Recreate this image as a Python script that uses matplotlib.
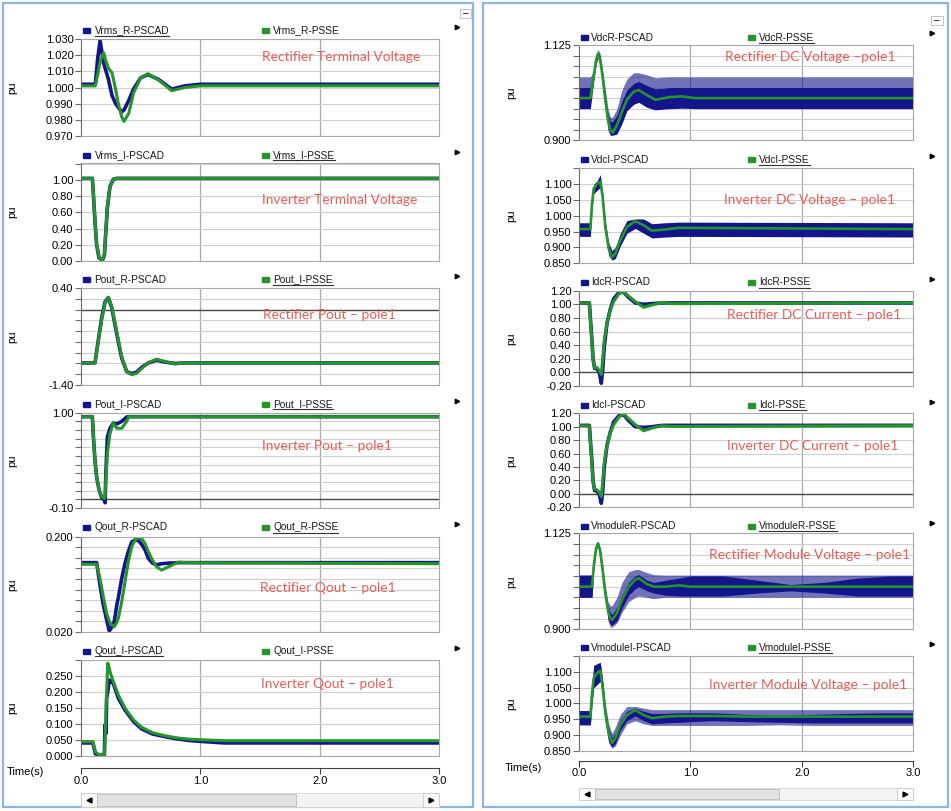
import numpy as np
import matplotlib.pyplot as plt
from matplotlib.patches import Rectangle

plt.rcParams['font.family'] = ['Liberation Sans', 'DejaVu Sans']

W, H = 951, 811
NAVY = '#14148c'
GREEN = '#23952a'
RED = '#e35f57'
GRID = '#cfcfcf'

# ---------------- data ----------------
# left column
t_l1 = [0, 0.12, 0.14, 0.16, 0.19, 0.21, 0.23, 0.26, 0.29, 0.31, 0.34, 0.36, 0.40, 0.44, 0.50, 0.56, 0.65, 0.76, 0.87, 1.0, 3.0]
psse_l1 = [1.001, 1.001, 1.008, 1.016, 1.0215, 1.016, 1.012, 1.009, 0.999, 0.991, 0.982, 0.979, 0.984, 0.9966, 1.006, 1.0085, 1.0046, 0.998, 1.000, 1.001, 1.001]
pscad_l1 = [1.002, 1.002, 1.018, 1.029, 1.015, 1.010, 1.005, 0.995, 0.990, 0.988, 0.985, 0.986, 0.992, 0.999, 1.006, 1.008, 1.005, 0.999, 1.001, 1.002, 1.002]

t_l2 = [0, 0.095, 0.104, 0.117, 0.131, 0.151, 0.179, 0.196, 0.208, 0.221, 0.243, 0.271, 0.30, 3.0]
psse_l2 = [1.02, 1.02, 0.83, 0.50, 0.21, 0.05, 0.01, 0.08, 0.375, 0.67, 0.92, 1.01, 1.02, 1.02]
pscad_l2 = [1.02, 1.02, 0.82, 0.49, 0.20, 0.04, 0.01, 0.07, 0.36, 0.66, 0.92, 1.01, 1.02, 1.02]

t_l3 = [0, 0.117, 0.145, 0.173, 0.201, 0.229, 0.257, 0.285, 0.313, 0.341, 0.383, 0.425, 0.467, 0.51, 0.564, 0.634, 0.704, 0.788, 0.87, 3.0]
psse_l3 = [-0.99, -0.99, -0.59, -0.19, 0.12, 0.23, 0.06, -0.25, -0.56, -0.87, -1.15, -1.21, -1.18, -1.09, -0.985, -0.92, -0.965, -1.01, -0.99, -0.99]
pscad_l3 = [-0.99, -0.99, -0.57, -0.16, 0.14, 0.22, 0.04, -0.28, -0.60, -0.90, -1.15, -1.19, -1.16, -1.07, -0.99, -0.94, -0.975, -1.00, -0.99, -0.99]

t_l4 = [0, 0.095, 0.104, 0.117, 0.131, 0.151, 0.173, 0.196, 0.202, 0.208, 0.221, 0.243, 0.271, 0.30, 0.341, 0.383, 0.40, 3.0]
psse_l4 = [0.954, 0.954, 0.72, 0.45, 0.26, 0.11, 0.03, 0.01, 0.05, 0.23, 0.53, 0.76, 0.88, 0.82, 0.82, 0.90, 0.954, 0.954]
pscad_l4 = [0.954, 0.954, 0.72, 0.45, 0.26, 0.11, 0.02, -0.01, -0.04, 0.28, 0.72, 0.82, 0.88, 0.87, 0.90, 0.95, 0.954, 0.954]

t_l5 = [0, 0.131, 0.159, 0.187, 0.215, 0.237, 0.255, 0.279, 0.30, 0.313, 0.341, 0.369, 0.397, 0.425, 0.453, 0.48, 0.51, 0.537, 0.564, 0.60, 0.634, 0.676, 0.732, 0.816, 0.9, 3.0]
psse_l5 = [0.148, 0.148, 0.121, 0.087, 0.055, 0.040, 0.034, 0.030, 0.038, 0.046, 0.077, 0.115, 0.153, 0.181, 0.194, 0.198, 0.196, 0.187, 0.172, 0.155, 0.143, 0.137, 0.143, 0.152, 0.151, 0.149]
pscad_l5 = [0.151, 0.151, 0.109, 0.071, 0.043, 0.022, 0.028, 0.040, 0.071, 0.085, 0.121, 0.150, 0.172, 0.190, 0.194, 0.193, 0.185, 0.175, 0.159, 0.150, 0.147, 0.149, 0.150, 0.151, 0.151, 0.151]

t_l6 = [0, 0.10, 0.12, 0.145, 0.196, 0.201, 0.21, 0.215, 0.224, 0.237, 0.243, 0.271, 0.313, 0.369, 0.44, 0.508, 0.6, 0.7, 0.8, 0.9, 1.0, 1.2, 3.0]
psse_l6 = [0.044, 0.044, 0.012, 0.004, 0.004, 0.05, 0.138, 0.20, 0.29, 0.275, 0.264, 0.232, 0.19, 0.149, 0.112, 0.089, 0.072, 0.063, 0.056, 0.052, 0.05, 0.047, 0.047]
pscad_l6 = [0.040, 0.040, 0.006, 0.003, 0.003, 0.096, 0.07, 0.18, 0.20, 0.237, 0.236, 0.226, 0.18, 0.143, 0.107, 0.084, 0.068, 0.060, 0.053, 0.048, 0.045, 0.040, 0.040]

# right column
t_r1 = [0, 0.102, 0.132, 0.153, 0.171, 0.191, 0.212, 0.236, 0.26, 0.281, 0.302, 0.341, 0.386, 0.43, 0.49, 0.535, 0.61, 0.685, 0.805, 0.925, 1.04, 3.0]
psse_r1 = [1.0, 1.0, 1.051, 1.09, 1.104, 1.09, 1.051, 0.996, 0.948, 0.925, 0.918, 0.936, 0.968, 0.996, 1.015, 1.019, 1.007, 0.996, 1.002, 1.004, 1.0, 1.0]
pscad_lo_r1 = [0.975, 0.975, 1.04, 1.08, 1.095, 1.075, 1.035, 0.975, 0.925, 0.912, 0.912, 0.915, 0.94, 0.97, 0.985, 0.99, 0.978, 0.972, 0.975, 0.976, 0.975, 0.975]
pscad_hi_r1 = [1.025, 1.025, 1.06, 1.10, 1.11, 1.10, 1.06, 1.01, 0.965, 0.945, 0.945, 0.96, 0.995, 1.02, 1.035, 1.04, 1.03, 1.022, 1.025, 1.025, 1.025, 1.025]
pscad_spike_r1 = [1.05, 1.05, 1.065, 1.105, 1.115, 1.105, 1.065, 1.02, 0.975, 0.955, 0.955, 0.975, 1.02, 1.045, 1.06, 1.06, 1.055, 1.048, 1.05, 1.05, 1.05, 1.05]

t_r2 = [0, 0.102, 0.117, 0.132, 0.162, 0.191, 0.212, 0.236, 0.266, 0.296, 0.326, 0.371, 0.43, 0.505, 0.58, 0.655, 0.775, 0.895, 3.0]
psse_r2 = [0.958, 0.958, 1.039, 1.086, 1.102, 1.107, 1.06, 0.965, 0.897, 0.869, 0.881, 0.923, 0.965, 0.983, 0.97, 0.953, 0.957, 0.962, 0.958]
pscad_lo_r2 = [0.935, 0.935, 1.02, 1.07, 1.08, 1.09, 1.04, 0.945, 0.875, 0.86, 0.865, 0.905, 0.945, 0.96, 0.945, 0.93, 0.933, 0.935, 0.933]
pscad_hi_r2 = [0.978, 0.978, 1.05, 1.10, 1.11, 1.13, 1.075, 0.985, 0.915, 0.89, 0.90, 0.945, 0.985, 0.99, 0.99, 0.975, 0.978, 0.98, 0.978]

t_r3 = [0, 0.093, 0.102, 0.117, 0.126, 0.14, 0.162, 0.182, 0.2, 0.212, 0.227, 0.251, 0.281, 0.311, 0.356, 0.40, 0.446, 0.505, 0.58, 0.655, 0.745, 0.835, 3.0]
psse_r3 = [1.02, 1.02, 0.77, 0.43, 0.18, 0.07, 0.07, 0.024, -0.03, 0.18, 0.48, 0.72, 0.92, 1.04, 1.15, 1.185, 1.12, 1.04, 0.956, 0.99, 1.024, 1.01, 1.02]
pscad_r3 = [1.02, 1.02, 0.80, 0.45, 0.20, 0.06, 0.05, 0.0, -0.16, 0.03, 0.38, 0.72, 0.93, 1.08, 1.17, 1.18, 1.10, 1.02, 1.0, 1.01, 1.02, 1.02, 1.02]

t_r4 = t_r3
psse_r4 = [1.015, 1.015, 0.77, 0.43, 0.18, 0.07, 0.06, 0.02, -0.04, 0.17, 0.47, 0.71, 0.91, 1.03, 1.14, 1.19, 1.12, 1.03, 0.94, 0.98, 1.015, 1.005, 1.015]
pscad_r4 = [1.02, 1.02, 0.80, 0.46, 0.20, 0.05, 0.04, -0.01, -0.14, 0.02, 0.40, 0.72, 0.92, 1.07, 1.16, 1.18, 1.09, 1.00, 0.99, 1.00, 1.02, 1.02, 1.02]

t_r5 = [0, 0.117, 0.132, 0.153, 0.171, 0.191, 0.212, 0.236, 0.26, 0.281, 0.296, 0.341, 0.386, 0.446, 0.505, 0.535, 0.61, 0.67, 0.775, 0.9, 1.0, 1.3, 1.6, 1.9, 2.2, 2.5, 2.8, 3.0]
psse_r5 = [1.0, 1.0, 1.047, 1.09, 1.1016, 1.082, 1.039, 0.984, 0.945, 0.926, 0.922, 0.9375, 0.969, 1.0, 1.016, 1.02, 1.006, 1.0, 1.0, 1.003, 1.0, 1.0, 1.0, 1.0, 1.0, 1.0, 1.0, 1.0]
pscad_dlo_r5 = [0.975, 0.975, 1.04, 1.085, 1.097, 1.077, 1.032, 0.975, 0.925, 0.912, 0.91, 0.92, 0.95, 0.98, 0.995, 1.0, 0.99, 0.985, 0.98, 0.978, 0.978, 0.978, 0.985, 0.99, 0.985, 0.978, 0.978, 0.978]
pscad_dhi_r5 = [1.027, 1.027, 1.055, 1.095, 1.106, 1.088, 1.045, 0.99, 0.955, 0.94, 0.935, 0.95, 0.98, 1.01, 1.025, 1.028, 1.015, 1.01, 1.015, 1.02, 1.025, 1.025, 1.015, 1.005, 1.01, 1.02, 1.025, 1.025]
pscad_llo_r5 = [0.975, 0.975, 1.04, 1.085, 1.097, 1.077, 1.03, 0.97, 0.92, 0.905, 0.905, 0.915, 0.94, 0.965, 0.975, 0.978, 0.975, 0.972, 0.975, 0.975, 0.975, 0.975, 0.975, 0.975, 0.975, 0.975, 0.975, 0.975]
pscad_lhi_r5 = [1.027, 1.027, 1.055, 1.095, 1.106, 1.088, 1.05, 1.0, 0.965, 0.955, 0.955, 0.975, 1.01, 1.035, 1.04, 1.04, 1.033, 1.028, 1.027, 1.027, 1.027, 1.027, 1.027, 1.027, 1.027, 1.027, 1.027, 1.027]

t_r6 = [0, 0.102, 0.117, 0.132, 0.162, 0.191, 0.212, 0.236, 0.266, 0.296, 0.326, 0.371, 0.43, 0.505, 0.58, 0.655, 0.775, 0.9, 1.2, 1.5, 1.8, 2.1, 2.4, 2.7, 3.0]
psse_r6 = [0.958, 0.958, 1.032, 1.08, 1.096, 1.104, 1.053, 0.969, 0.905, 0.875, 0.889, 0.932, 0.963, 0.979, 0.963, 0.953, 0.958, 0.96, 0.96, 0.958, 0.958, 0.958, 0.958, 0.958, 0.958]
pscad_dlo_r6 = [0.932, 0.932, 1.0, 1.05, 1.06, 1.07, 1.03, 0.945, 0.88, 0.862, 0.872, 0.915, 0.945, 0.96, 0.945, 0.935, 0.938, 0.94, 0.945, 0.942, 0.94, 0.938, 0.938, 0.938, 0.938]
pscad_dhi_r6 = [0.977, 0.977, 1.05, 1.12, 1.125, 1.13, 1.07, 0.985, 0.92, 0.89, 0.905, 0.945, 0.975, 0.985, 0.975, 0.968, 0.968, 0.97, 0.97, 0.965, 0.962, 0.965, 0.968, 0.97, 0.97]
pscad_llo_r6 = [0.932, 0.932, 1.0, 1.05, 1.06, 1.07, 1.025, 0.94, 0.875, 0.858, 0.865, 0.9, 0.935, 0.945, 0.935, 0.93, 0.93, 0.93, 0.93, 0.93, 0.932, 0.93, 0.93, 0.93, 0.93]
pscad_lhi_r6 = [0.977, 0.977, 1.05, 1.12, 1.125, 1.13, 1.08, 1.0, 0.935, 0.905, 0.925, 0.965, 0.99, 0.99, 0.985, 0.98, 0.98, 0.98, 0.98, 0.98, 0.98, 0.98, 0.98, 0.98, 0.98]

time_ticks = [0, 1, 2, 3]
time_labels = ['0.0', '1.0', '2.0', '3.0']

# ---------------- figure ----------------
fig = plt.figure(figsize=(W / 100, H / 100), dpi=100)
ov = fig.add_axes([0, 0, 1, 1], zorder=5)
ov.set_xlim(0, W)
ov.set_ylim(H, 0)
ov.axis('off')


def px_axes(x0, y0, x1, y1):
    return fig.add_axes([x0 / W, 1 - y1 / H, (x1 - x0) / W, (y1 - y0) / H])


def setup(ax, ylim, step, labeled, fmt, zero=False):
    ax.set_xlim(0, 3)
    ax.set_ylim(*ylim)
    ticks = np.arange(ylim[0], ylim[1] + step / 2, step)
    ax.set_yticks(ticks)
    ax.set_yticklabels([fmt % v if any(abs(v - l) < 1e-9 for l in labeled) else '' for v in ticks])
    ax.set_xticks([])
    ax.grid(axis='y', color=GRID, lw=0.8)
    ax.set_axisbelow(True)
    for x in (1, 2):
        ax.axvline(x, color='#a9a9a9', lw=0.9, zorder=0.5)
    if zero:
        ax.axhline(0, color='#4a4a4a', lw=1.0, zorder=1)
    for s in ('top', 'right', 'bottom'):
        ax.spines[s].set_color('#a8a8a8')
    ax.spines['left'].set_color('#6a6a6a')
    ax.tick_params(axis='y', length=4, width=0.8, color='#6a6a6a', labelsize=8, pad=1.5)


def lines(ax, t, pscad, psse):
    ax.plot(t, pscad, color=NAVY, lw=2.6)
    ax.plot(t, psse, color=GREEN, lw=2.2)


underlined = []


def legend(y, xm1, xt1, lab1, xm2, xt2, lab2, under):
    for mx, tx, lab, col, u in ((xm1, xt1, lab1, NAVY, under == 1), (xm2, xt2, lab2, GREEN, under == 2)):
        ov.add_patch(Rectangle((mx - 3.5, y - 2.5), 7, 5, color=col))
        txt = ov.text(tx, y, lab, fontsize=7.3, ha='left', va='center', color='#1a1a1a')
        if u:
            underlined.append(txt)


def note(x, y, s):
    ov.text(x, y, s, ha='center', va='center', color=RED, fontsize=9.9, family=['Lato', 'DejaVu Sans'])


# left column axes
LX0, LX1 = 81, 439
ax = px_axes(LX0, 39, LX1, 136)
setup(ax, (0.97, 1.03), 0.01, np.arange(0.97, 1.031, 0.01), '%.3f')
lines(ax, t_l1, pscad_l1, psse_l1)
ax = px_axes(LX0, 163, LX1, 261)
setup(ax, (0.0, 1.21), 0.2, [0, 0.2, 0.4, 0.6, 0.8, 1.0], '%.2f')
lines(ax, t_l2, pscad_l2, psse_l2)
ax = px_axes(LX0, 288, LX1, 385)
setup(ax, (-1.4, 0.4), 0.2, [-1.4, 0.4], '%.2f', zero=True)
lines(ax, t_l3, pscad_l3, psse_l3)
ax = px_axes(LX0, 412.7, LX1, 508)
setup(ax, (-0.1, 1.0), 0.1, [-0.1, 1.0], '%.2f', zero=True)
lines(ax, t_l4, pscad_l4, psse_l4)
ax = px_axes(LX0, 536.7, LX1, 632)
setup(ax, (0.02, 0.2), 0.02, [0.02, 0.2], '%.3f')
lines(ax, t_l5, pscad_l5, psse_l5)
ax = px_axes(LX0, 660, LX1, 755.7)
setup(ax, (0.0, 0.3), 0.05, [0, 0.05, 0.1, 0.15, 0.2, 0.25], '%.3f')
lines(ax, t_l6, pscad_l6, psse_l6)

# right column axes
RX0, RX1 = 579, 913.3
ax = px_axes(RX0, 45.3, RX1, 140.3)
setup(ax, (0.9, 1.125), 0.025, [0.9, 1.125], '%.3f')
ax.fill_between(t_r1, pscad_hi_r1, pscad_spike_r1, color=NAVY, alpha=0.6, lw=0)
ax.fill_between(t_r1, pscad_lo_r1, pscad_hi_r1, color=NAVY, lw=0)
ax.plot(t_r1, psse_r1, color=GREEN, lw=1.9)
ax = px_axes(RX0, 168.3, RX1, 263.3)
setup(ax, (0.85, 1.15), 0.05, [0.85, 0.9, 0.95, 1.0, 1.05, 1.1], '%.3f')
ax.fill_between(t_r2, pscad_lo_r2, pscad_hi_r2, color=NAVY, lw=0)
ax.plot(t_r2, psse_r2, color=GREEN, lw=1.9)
ax = px_axes(RX0, 290.7, RX1, 386)
setup(ax, (-0.2, 1.2), 0.2, np.arange(-0.2, 1.21, 0.2), '%.2f', zero=True)
lines(ax, t_r3, pscad_r3, psse_r3)
ax = px_axes(RX0, 413.3, RX1, 507.3)
setup(ax, (-0.2, 1.2), 0.2, np.arange(-0.2, 1.21, 0.2), '%.2f', zero=True)
lines(ax, t_r4, pscad_r4, psse_r4)
ax = px_axes(RX0, 533.3, RX1, 629.3)
setup(ax, (0.9, 1.125), 0.025, [0.9, 1.125], '%.3f')
ax.fill_between(t_r5, pscad_llo_r5, pscad_lhi_r5, color=NAVY, alpha=0.6, lw=0)
ax.fill_between(t_r5, pscad_dlo_r5, pscad_dhi_r5, color=NAVY, lw=0)
ax.plot(t_r5, psse_r5, color=GREEN, lw=1.9)
ax = px_axes(RX0, 656, RX1, 750.7)
setup(ax, (0.85, 1.15), 0.05, [0.85, 0.9, 0.95, 1.0, 1.05, 1.1], '%.3f')
ax.fill_between(t_r6, pscad_llo_r6, pscad_lhi_r6, color=NAVY, alpha=0.6, lw=0)
ax.fill_between(t_r6, pscad_dlo_r6, pscad_dhi_r6, color=NAVY, lw=0)
ax.plot(t_r6, psse_r6, color=GREEN, lw=1.9)

# time axes
for x0, x1, yl in ((LX0, LX1, 768.3), (RX0, RX1, 760.7)):
    ta = px_axes(x0, yl - 2, x1, yl)
    ta.patch.set_visible(False)
    for s in ('top', 'right', 'left'):
        ta.spines[s].set_visible(False)
    ta.spines['bottom'].set_color('#404040')
    ta.set_xlim(0, 3)
    ta.set_yticks([])
    ta.set_xticks(time_ticks)
    ta.set_xticklabels(time_labels)
    ta.tick_params(axis='x', length=4, width=0.8, color='#404040', labelsize=8, pad=1.5)
ov.text(25, 772, 'Time(s)', fontsize=8, ha='center', va='center')
ov.text(523, 767.7, 'Time(s)', fontsize=8, ha='center', va='center')

# legends
LM1, LT1, LM2, LT2 = 86, 94.5, 265.7, 273
legend(30.3, LM1, LT1, 'Vrms_R-PSCAD', LM2, LT2, 'Vrms_R-PSSE', 1)
legend(155, LM1, LT1, 'Vrms_I-PSCAD', LM2, LT2, 'Vrms_I-PSSE', 2)
legend(279.3, LM1, LT1, 'Pout_R-PSCAD', LM2, LT2, 'Pout_I-PSSE', 2)
legend(404, LM1, LT1, 'Pout_I-PSCAD', LM2, LT2, 'Pout_I-PSSE', 2)
legend(527.3, LM1, LT1, 'Qout_R-PSCAD', LM2, LT2, 'Qout_R-PSSE', 2)
legend(651, LM1, LT1, 'Qout_I-PSCAD', LM2, LT2, 'Qout_I-PSSE', 1)
RM1, RT1, RM2, RT2 = 584.3, 591, 751.7, 759.3
legend(37.7, RM1, RT1, 'VdcR-PSCAD', RM2, RT2, 'VdcR-PSSE', 2)
legend(159.7, RM1, RT1, 'VdcI-PSCAD', RM2, RT2, 'VdcI-PSSE', 2)
legend(282.3, RM1, RT1, 'IdcR-PSCAD', RM2, RT2, 'IdcR-PSSE', 2)
legend(405, RM1, RT1, 'IdcI-PSCAD', RM2, RT2, 'IdcI-PSSE', 2)
legend(526, RM1, RT1, 'VmoduleR-PSCAD', RM2, RT2, 'VmoduleR-PSSE', 2)
legend(647.7, RM1, RT1, 'VmoduleI-PSCAD', RM2, RT2, 'VmoduleI-PSSE', 2)

# red annotations
note(340.8, 56.7, 'Rectifier Terminal Voltage')
note(339.7, 200, 'Inverter Terminal Voltage')
note(329, 315, 'Rectifier Pout \u2013 pole1')
note(326.7, 446, 'Inverter Pout \u2013 pole1')
note(328, 587.7, 'Rectifier Qout \u2013 pole1')
note(327.5, 684.3, 'Inverter Qout \u2013 pole1')
note(809.7, 57.3, 'Rectifier DC Voltage \u2013pole1')
note(809.7, 200, 'Inverter DC Voltage \u2013 pole1')
note(814, 315, 'Rectifier DC Current \u2013 pole1')
note(812.3, 446, 'Inverter DC Current \u2013 pole1')
note(809.2, 555, 'Rectifier Module Voltage \u2013 pole1')
note(808, 685, 'Inverter Module Voltage \u2013 pole1')

# "pu" axis titles
for cy in (87.5, 212, 336.5, 460.3, 584.3, 707.8):
    ov.text(12, cy, 'pu', rotation=90, ha='center', va='center', fontsize=8)
for cy in (92.8, 215.8, 338.3, 460.3, 581.3, 703.3):
    ov.text(511.7, cy, 'pu', rotation=90, ha='center', va='center', fontsize=8)

# little menu arrows
for yy in (26.7, 151.7, 276, 400.7, 524.3, 647.7):
    ov.plot(457, yy, marker='>', ms=3.2, color='k')
for yy in (33.3, 156, 279, 401.7, 522.7, 644.3):
    ov.plot(931.7, yy, marker='>', ms=3.2, color='k')

# minimise buttons
for bx, by, bw, bh in ((460, 9.3, 10.5, 8.5), (930.7, 16, 12.6, 9)):
    ov.add_patch(Rectangle((bx, by), bw, bh, fc='white', ec='#c4c4c4', lw=0.7))
    ov.text(bx + bw / 2, by + bh / 2, '\u2013', ha='center', va='center', fontsize=7)

# panel frames
ov.add_patch(Rectangle((3, 3), 470.3, 804, fill=False, ec='#90b4e4', lw=1.6))
ov.add_patch(Rectangle((483.3, 3.3), 464.7, 803.4, fill=False, ec='#90b4e4', lw=1.6))


def scrollbar(x0, x1, y0, y1, th0, th1, bw):
    h = y1 - y0
    ov.add_patch(Rectangle((x0, y0), x1 - x0, h, fc='#f3f3f3', ec='#d6d6d6', lw=0.6))
    ov.add_patch(Rectangle((x0, y0), bw, h, fc='#fbfbfb', ec='#c8c8c8', lw=0.6))
    ov.add_patch(Rectangle((x1 - bw, y0), bw, h, fc='#fbfbfb', ec='#c8c8c8', lw=0.6))
    ov.add_patch(Rectangle((th0, y0 + 1), th1 - th0, h - 2, fc='#e2e2e2', ec='#bcbcbc', lw=0.6))
    ov.plot(x0 + bw / 2, y0 + h / 2, marker='<', ms=3.5, color='k')
    ov.plot(x1 - bw / 2, y0 + h / 2, marker='>', ms=3.5, color='k')


scrollbar(81, 439, 793.3, 806.7, 96.7, 295.7, 15.7)
scrollbar(579, 913.3, 788.3, 800, 595, 779.3, 16)

# underline selected legend labels
fig.canvas.draw()
inv = ov.transData.inverted()
for txt in underlined:
    bb = txt.get_window_extent()
    (ux0, uy), (ux1, _) = inv.transform([(bb.x0, bb.y0), (bb.x1, bb.y0)])
    ov.plot([ux0, ux1], [uy + 0.3, uy + 0.3], color='#333333', lw=0.8)

fig.savefig('out.png', dpi=100, facecolor='white')
